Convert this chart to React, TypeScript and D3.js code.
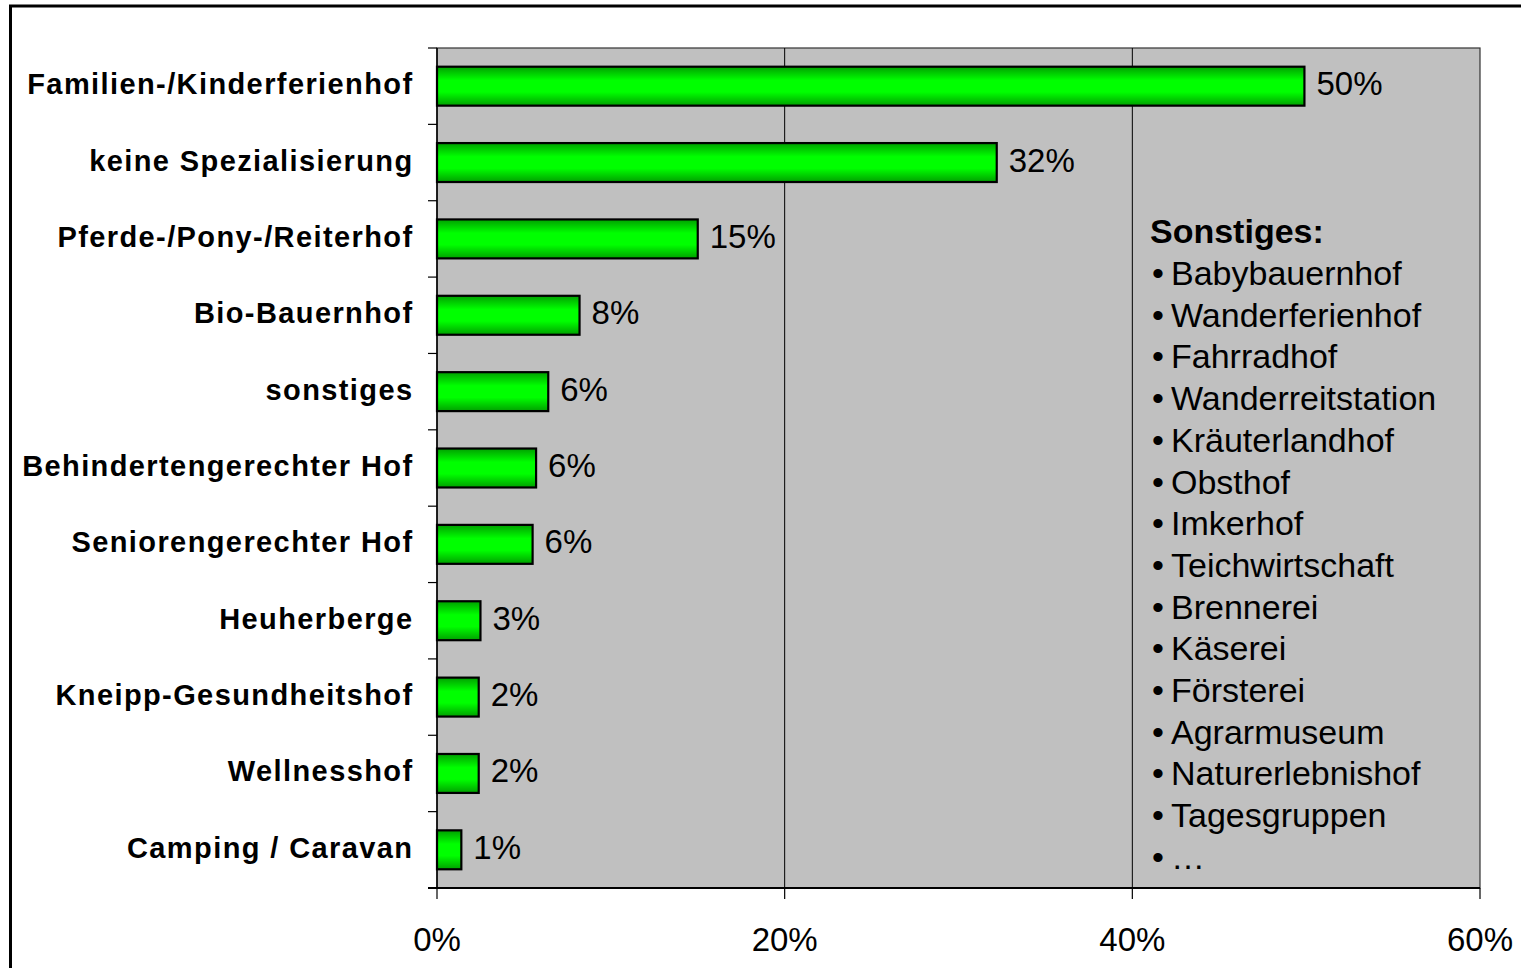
import React from "react";
import * as d3 from "d3";

const categories = [
  "Familien-/Kinderferienhof",
  "keine Spezialisierung",
  "Pferde-/Pony-/Reiterhof",
  "Bio-Bauernhof",
  "sonstiges",
  "Behindertengerechter Hof",
  "Seniorengerechter Hof",
  "Heuherberge",
  "Kneipp-Gesundheitshof",
  "Wellnesshof",
  "Camping / Caravan",
];
const values = [49.9, 32.2, 15.0, 8.2, 6.4, 5.7, 5.5, 2.5, 2.4, 2.4, 1.4];
const xTicks = [0, 20, 40, 60];
const otherTitle = "Sonstiges:";
const otherItems = [
  "Babybauernhof",
  "Wanderferienhof",
  "Fahrradhof",
  "Wanderreitstation",
  "Kräuterlandhof",
  "Obsthof",
  "Imkerhof",
  "Teichwirtschaft",
  "Brennerei",
  "Käserei",
  "Försterei",
  "Agrarmuseum",
  "Naturerlebnishof",
  "Tagesgruppen",
  "…",
];

const W = 1521;
const H = 968;
const plot = { left: 437, right: 1480, top: 48, bottom: 888 };
const FONT = "'Liberation Sans', Arial, Helvetica, sans-serif";

export default function App() {
  const x = d3.scaleLinear().domain([0, 60]).range([plot.left, plot.right]);
  const y = d3
    .scaleBand<string>()
    .domain(categories)
    .range([plot.top, plot.bottom])
    .paddingInner(0.49)
    .paddingOuter(0.245);
  const step = (plot.bottom - plot.top) / categories.length;
  const boundaries = d3.range(categories.length + 1).map((i) => plot.top + i * step);

  return (
    <svg
      width={W}
      height={H}
      style={{ position: "absolute", left: 0, top: 0, display: "block", background: "#fff" }}
      fontFamily={FONT}
    >
      <defs>
        <linearGradient id="barGrad" x1="0" y1="0" x2="0" y2="1">
          <stop offset="0%" stopColor="#00A000" />
          <stop offset="35%" stopColor="#00FF00" />
          <stop offset="65%" stopColor="#00FF00" />
          <stop offset="100%" stopColor="#00A000" />
        </linearGradient>
      </defs>
      {/* outer chart border */}
      <rect x={10.5} y={6} width={W + 20} height={H + 20} fill="none" stroke="#000" strokeWidth={3} />

      {/* plot area */}
      <rect
        x={plot.left}
        y={plot.top}
        width={plot.right - plot.left}
        height={plot.bottom - plot.top}
        fill="#C0C0C0"
        stroke="#333"
        strokeWidth={1.2}
      />
      {/* gridlines */}
      {xTicks.slice(1, -1).map((t) => (
        <line key={"g" + t} x1={x(t)} x2={x(t)} y1={plot.top} y2={plot.bottom} stroke="#000" strokeWidth={1} />
      ))}

      {/* other list */}
      <text x={1150} y={243} fontSize={34} fontWeight="bold" fill="#000">
        {otherTitle}
      </text>
      {otherItems.map((it, i) => (
        <g key={it}>
          <text x={1152} y={285 + i * 41.7} fontSize={34} fill="#000">
            •
          </text>
          <text x={1171} y={285 + i * 41.7} fontSize={34} fill="#000">
            {it}
          </text>
        </g>
      ))}

      {/* bars */}
      {categories.map((c, i) => (
        <g key={c}>
          <rect
            x={x(0)}
            y={y(c)!}
            width={x(values[i]) - x(0)}
            height={y.bandwidth()}
            fill="url(#barGrad)"
            stroke="#000"
            strokeWidth={2.2}
          />
          <text x={x(values[i]) + 12} y={y(c)! + y.bandwidth() / 2 + 9} fontSize={33} fill="#000">
            {Math.round(values[i]) + "%"}
          </text>
          <text
            x={413.5}
            y={y(c)! + y.bandwidth() / 2 + 8}
            fontSize={29}
            fontWeight="bold"
            letterSpacing={1.4}
            textAnchor="end"
            fill="#000"
          >
            {c}
          </text>
        </g>
      ))}

      {/* axes */}
      <line x1={plot.left} x2={plot.left} y1={plot.top} y2={plot.bottom} stroke="#000" strokeWidth={1.5} />
      <line x1={plot.left - 9} x2={plot.right} y1={plot.bottom} y2={plot.bottom} stroke="#000" strokeWidth={2} />
      {boundaries.map((b, i) => (
        <line key={"yt" + i} x1={plot.left - 9} x2={plot.left} y1={b} y2={b} stroke="#000" strokeWidth={1.2} />
      ))}
      {xTicks.map((t) => (
        <g key={"xt" + t}>
          <line x1={x(t)} x2={x(t)} y1={plot.bottom} y2={plot.bottom + 11} stroke="#000" strokeWidth={1.2} />
          <text x={x(t)} y={951} fontSize={33} textAnchor="middle" fill="#000">
            {t + "%"}
          </text>
        </g>
      ))}
    </svg>
  );
}
